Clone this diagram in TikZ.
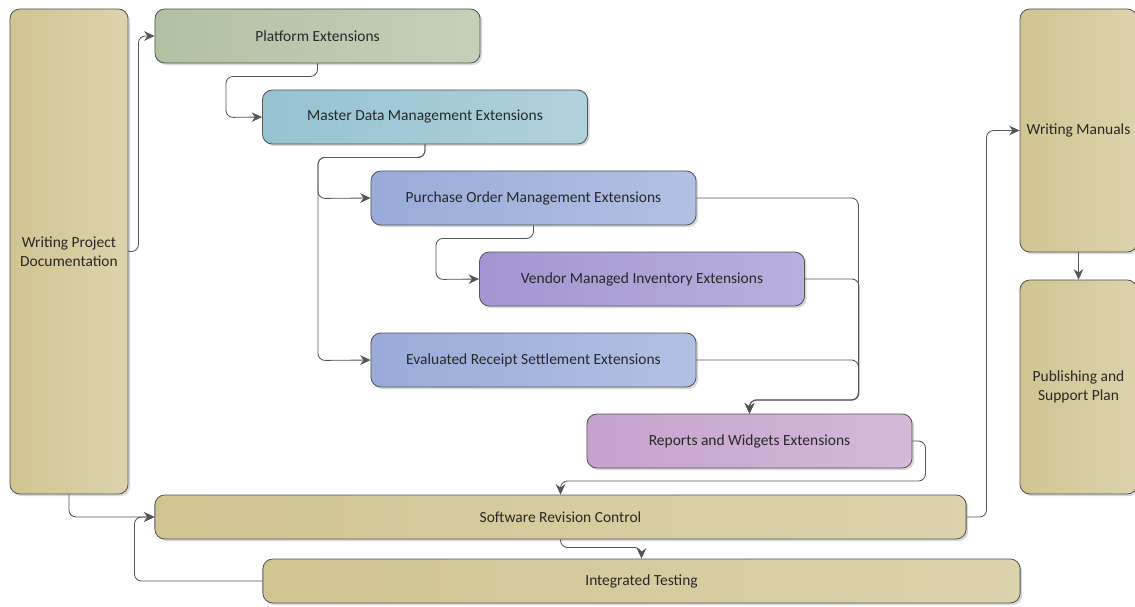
\documentclass[tikz,border=0pt]{standalone}
\usepackage{fontspec}
\setmainfont{Carlito}
\usepackage{xcolor}
\usepackage{tikz}
\usetikzlibrary{arrows.meta,shadows}
\definecolor{tanfill}{RGB}{208,196,145}
\definecolor{platgreen}{RGB}{178,192,162}
\definecolor{mdmblue}{RGB}{150,194,209}
\definecolor{poblue}{RGB}{152,171,217}
\definecolor{vmipurple}{RGB}{164,148,211}
\definecolor{rwpink}{RGB}{198,162,205}
\definecolor{edgegray}{RGB}{85,85,85}
\definecolor{txtgray}{RGB}{40,40,40}

\begin{document}
\begin{tikzpicture}[
  x=0.025cm, y=-0.025cm,
  stepbox/.style={draw=edgegray, semithick, rounded corners=7pt,
              minimum width=8.125cm, minimum height=1.35cm,
              align=center, font=\fontsize{11}{13.5}\selectfont, text=txtgray,
              drop shadow={shadow xshift=1.5pt, shadow yshift=-1.5pt,
                           fill=black!30, opacity=.5}},
  tint/.style={left color=#1, right color=#1!75!white},
  tanbox/.style={stepbox, tint=tanfill},
  link/.style={-{Stealth[length=2.6mm, width=2.4mm]}, edgegray,
               semithick, rounded corners=5pt}]

  \useasboundingbox (0,0) rectangle (1135,606);

  \node[tanbox, minimum width=2.95cm, minimum height=12.125cm]
    (wpd) at (69,251.5) {Writing Project\\Documentation};

  \node[stepbox, tint=platgreen] (pe)  at (317.5,36)  {Platform Extensions};
  \node[stepbox, tint=mdmblue]   (mdm) at (425,117)   {Master Data Management Extensions};
  \node[stepbox, tint=poblue]    (po)  at (533.5,198) {Purchase Order Management Extensions};
  \node[stepbox, tint=vmipurple] (vmi) at (642,279)   {Vendor Managed Inventory Extensions};
  \node[stepbox, tint=poblue]    (ers) at (533.5,360) {Evaluated Receipt Settlement Extensions};
  \node[stepbox, tint=rwpink]    (rw)  at (749.5,441) {Reports and Widgets Extensions};

  \node[tanbox, minimum width=20.275cm, minimum height=1.1cm]
    (src) at (560.5,517) {Software Revision Control};
  \node[tanbox, minimum width=18.925cm, minimum height=1.1cm]
    (it) at (641.5,581) {Integrated Testing};

  \node[tanbox, minimum width=2.925cm, minimum height=6.075cm]
    (wm) at (1078.5,130.5) {Writing Manuals};
  \node[tanbox, minimum width=2.925cm, minimum height=5.35cm]
    (ps) at (1078.5,387) {Publishing and\\Support Plan};

  % Step-down chain of extensions
  \draw[link] (wpd.east) -- ++(10,0) |- (pe.west);
  \draw[link] (pe.south) -- ++(0,13) -| ++(-91.5,41) -- (mdm.west);
  \draw[link] (mdm.south) -- ++(0,13) -| ++(-107,41) -- (po.west);
  \draw[link] (mdm.south) -- ++(0,13) -| ++(-107,203) -- (ers.west);
  \draw[link] (po.south) -- ++(0,13) -| ++(-97.5,41) -- (vmi.west);

  % Collector on the right into the reports box
  \draw[link] (po.east) -- ++(162,0) -- ++(0,202) -| (rw.north);
  \draw[link] (vmi.east) -- ++(54,0) -- ++(0,121) -| (rw.north);
  \draw[link] (ers.east) -- ++(162,0) -- ++(0,40) -| (rw.north);
  \draw[link] (rw.east) -- ++(13,0) -- ++(0,40) -| (src.north);

  % Revision control loop and manuals
  \draw[link] (wpd.south) |- (src.west);
  \draw[link] (src.south) -- ++(0,8) -| (it.north);
  \draw[link] (it.west) -- ++(-128,0) |- (src.west);
  \draw[link] (src.east) -- ++(20,0) |- (wm.west);
  \draw[link] (wm.south) -- (ps.north);
\end{tikzpicture}
\end{document}
